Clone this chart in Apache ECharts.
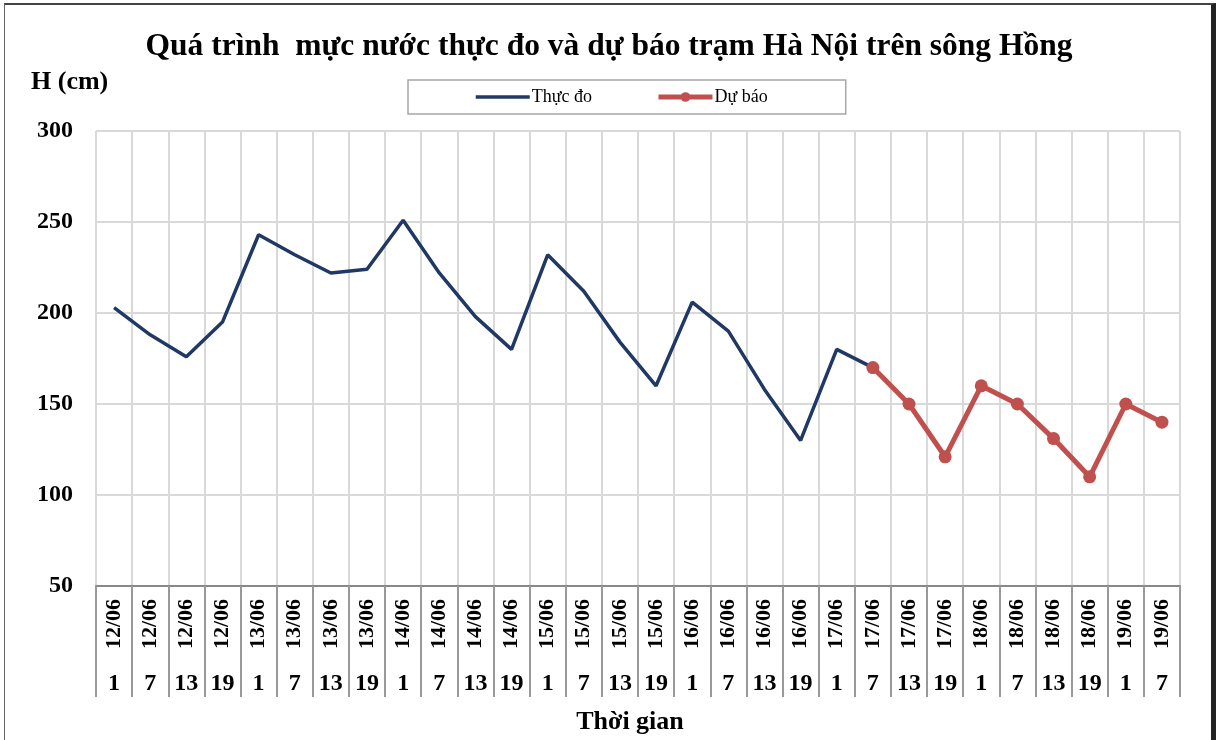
<!doctype html>
<html>
<head>
<meta charset="utf-8">
<title>Mực nước Hà Nội</title>
<script src="https://cdn.jsdelivr.net/npm/echarts@6/dist/echarts.min.js"></script>
<style>
  html, body { margin: 0; padding: 0; background: #fff; }
  #frame {
    position: absolute; left: 4px; top: 3px; width: 1206px; height: 745px;
    border-top: 2px solid #444; border-left: 1px solid #666; border-right: 5px solid #222;
  }
  #chart { position: absolute; left: 0; top: 0; width: 1218px; height: 740px; }
</style>
</head>
<body>
<div id="frame"></div>
<div id="chart"></div>
<script>
// ngày / giờ của từng lần đo
var dates = ['12/06','12/06','12/06','12/06','13/06','13/06','13/06','13/06',
             '14/06','14/06','14/06','14/06','15/06','15/06','15/06','15/06',
             '16/06','16/06','16/06','16/06','17/06','17/06','17/06','17/06',
             '18/06','18/06','18/06','18/06','19/06','19/06'];
var hours = ['1','7','13','19','1','7','13','19','1','7','13','19','1','7','13','19',
             '1','7','13','19','1','7','13','19','1','7','13','19','1','7'];
// thực đo: 12/06 1h -> 17/06 7h
var observed = [203,188,176,195,243,232,222,224,251,222,198,180,232,212,184,160,
                206,190,158,130,180,170];
// dự báo: 17/06 7h -> 19/06 7h
var forecast = [170,150,121,160,150,131,110,150,140];
var yTicks = [50,100,150,200,250,300];

var serif = "'Liberation Serif', 'Times New Roman', serif";

var obsData = [], fcData = [];
for (var i = 0; i < dates.length; i++) {
  obsData.push(i < observed.length ? observed[i] : null);
  var k = i - (dates.length - forecast.length);
  fcData.push(k >= 0 ? forecast[k] : null);
}

var myChart = echarts.init(document.getElementById('chart'));
var option = {
  animation: false,
  title: [{
    text: 'Quá trình  mực nước thực đo và dự báo trạm Hà Nội trên sông Hồng',
    left: 'center', top: 26,
    textStyle: { fontFamily: serif, fontWeight: 'bold', fontSize: 31.5, color: '#000' }
  }, {
    text: 'H (cm)', left: 26, top: 64,
    textStyle: { fontFamily: serif, fontWeight: 'bold', fontSize: 26, color: '#000' }
  }],
  legend: {
    left: 408, top: 80,
    padding: [8, 78, 8, 66],
    itemGap: 64, itemWidth: 54, itemHeight: 12,
    borderColor: '#a6a6a6', borderWidth: 1.5,
    textStyle: { fontFamily: serif, fontSize: 18, color: '#000', padding: [0, 0, 0, -3] },
    data: [
      { name: 'Thực đo', itemStyle: { opacity: 0 }, lineStyle: { width: 3.5 } },
      { name: 'Dự báo', lineStyle: { width: 5 } }
    ]
  },
  grid: { left: 96, right: 38, top: 131, bottom: 154, outerBoundsMode: 'none' },
  xAxis: [{
    type: 'category', data: dates, boundaryGap: true,
    axisLine: { lineStyle: { color: '#888', width: 2 } },
    axisTick: { show: true, interval: 0, length: 111, lineStyle: { color: '#999', width: 2 } },
    axisLabel: { interval: 0, rotate: 90, margin: 13, fontFamily: serif, fontWeight: 'bold',
                 fontSize: 22, color: '#000' },
    splitLine: { show: true, interval: 0, lineStyle: { color: '#d9d9d9', width: 2 } }
  }, {
    type: 'category', data: hours, position: 'bottom', offset: 80,
    axisLine: { show: false }, axisTick: { show: false }, splitLine: { show: false },
    axisLabel: { interval: 0, margin: 6, fontFamily: serif, fontWeight: 'bold',
                 fontSize: 24, color: '#000' },
    name: 'Thời gian', nameLocation: 'middle', nameGap: 43,
    nameTextStyle: { fontFamily: serif, fontWeight: 'bold', fontSize: 26, color: '#000',
                     padding: [0, 16, 0, 0] }
  }],
  yAxis: {
    type: 'value', min: yTicks[0], max: yTicks[yTicks.length - 1], interval: 50,
    axisLine: { show: false }, axisTick: { show: false },
    axisLabel: { margin: 23, fontFamily: serif, fontWeight: 'bold', fontSize: 24, color: '#000' },
    splitLine: { lineStyle: { color: '#d9d9d9', width: 2 } }
  },
  series: [{
    name: 'Thực đo', type: 'line', data: obsData,
    symbol: 'none', connectNulls: false,
    lineStyle: { color: '#1f3864', width: 3.5 },
    itemStyle: { color: '#1f3864' }
  }, {
    name: 'Dự báo', type: 'line', data: fcData,
    symbol: 'circle', symbolSize: 13,
    lineStyle: { color: '#c0504d', width: 5 },
    itemStyle: { color: '#c0504d' }
  }]
};
myChart.setOption(option);
</script>
</body>
</html>
